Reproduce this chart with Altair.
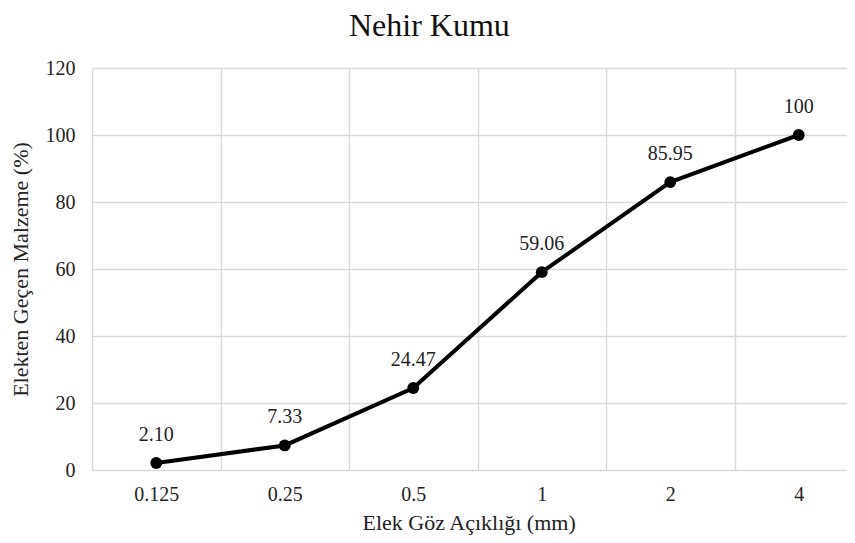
import altair as alt
import pandas as pd

sizes = ["0.125", "0.25", "0.5", "1", "2", "4"]
passing = [2.10, 7.33, 24.47, 59.06, 85.95, 100]
labels = ["2.10", "7.33", "24.47", "59.06", "85.95", "100"]

df = pd.DataFrame({"size": sizes, "pass": passing, "label": labels})

FONT = "Liberation Serif"

x = alt.X("size:N", sort=sizes, title="Elek Göz Açıklığı (mm)",
          scale=alt.Scale(paddingInner=0, paddingOuter=0, range=[0, 771]),
          axis=alt.Axis(labelAngle=0, domain=False, ticks=False, grid=True,
                        tickBand="extent", gridColor="#d9d9d9", gridWidth=1.5,
                        labelFont=FONT, labelFontSize=20, labelColor="#222222",
                        labelPadding=14, titleFont=FONT, titleFontSize=22,
                        titleFontWeight="normal", titleColor="#222222", titlePadding=8,
                        titleX=270, titleAnchor="start", titleAlign="left"))
y = alt.Y("pass:Q", title="Elekten Geçen Malzeme (%)",
          scale=alt.Scale(domain=[0, 120], nice=False),
          axis=alt.Axis(values=[0, 20, 40, 60, 80, 100, 120], domain=False, ticks=False,
                        gridColor="#d9d9d9", gridWidth=1.5,
                        labelFont=FONT, labelFontSize=20, labelColor="#222222",
                        labelPadding=17, titleFont=FONT, titleFontSize=22,
                        titleFontWeight="normal", titleColor="#222222", titlePadding=13))

base = alt.Chart(df).encode(x=x, y=y)
line = base.mark_line(color="black", strokeWidth=4)
pts = base.mark_circle(color="black", size=140, opacity=1)
txt = base.mark_text(font=FONT, fontSize=20, color="#222222", dy=-28).encode(text="label:N")

chart = (line + pts + txt).properties(
    width=755, height=402,
    autosize=alt.AutoSizeParams(type="none"),
    padding={"left": 84, "top": 60, "right": 0, "bottom": 70},
    title=alt.TitleParams("Nehir Kumu", font=FONT, fontSize=32, fontWeight="normal",
                          color="#111111", anchor="start", dx=340, offset=15),
).configure_view(stroke=None)

chart.save("out.html", embed_options={"renderer": "svg", "actions": False})
